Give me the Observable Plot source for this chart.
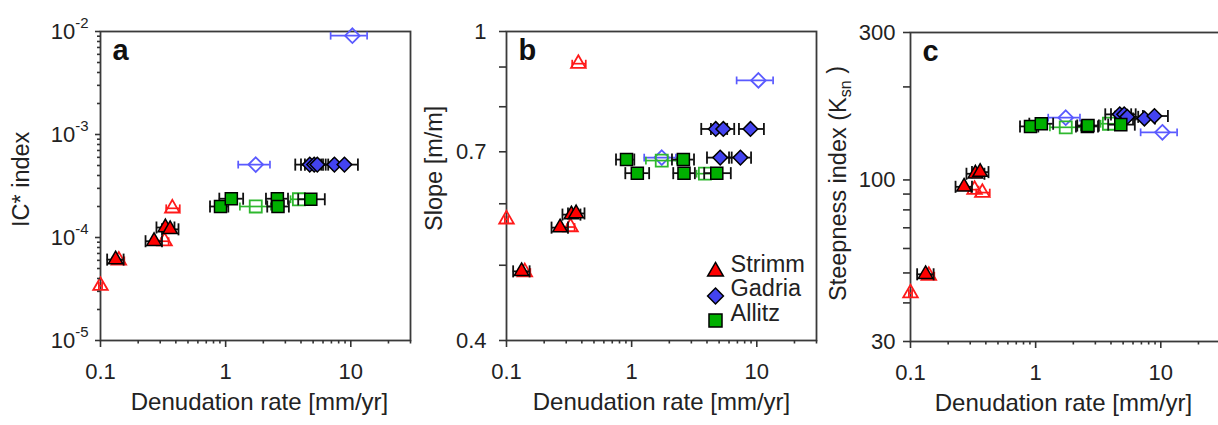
<!DOCTYPE html>
<html><head><meta charset="utf-8">
<script src="https://cdn.jsdelivr.net/npm/d3@7"></script>
<script src="https://cdn.jsdelivr.net/npm/@observablehq/plot@0.6"></script>
<style>
body{margin:0;background:#fff}
#chart{position:relative;width:1218px;height:425px;overflow:hidden;font-family:"Liberation Sans",Arial,Helvetica,sans-serif}
#chart svg{position:absolute;top:0}
</style>
</head><body><div id="chart"></div>
<script>
// ---------------- data ----------------
const legendNames = ["Strimm", "Gadria", "Allitz"];
const xTitle = "Denudation rate [mm/yr]";

// Strimm, filled (black error bars)
const strimmX     = [0.132, 0.268, 0.33, 0.36];
const strimmLo    = [0.113, 0.229, 0.28, 0.31];
const strimmHi    = [0.153, 0.31, 0.39, 0.42];
const strimmIC    = [6.1e-5, 9.2e-5, 1.25e-4, 1.2e-4];
const strimmSlope = [0.491, 0.559, 0.581, 0.583];
const strimmKsn   = [49.5, 95, 104.7, 106];
// Strimm, open
const strimmOX     = [0.1, 0.14, 0.325, 0.375];
const strimmOLo    = [0.097, 0.125, 0.305, 0.335];
const strimmOHi    = [0.103, 0.155, 0.35, 0.43];
const strimmOIC    = [3.4e-5, 6.0e-5, 9.2e-5, 1.92e-4];
const strimmOSlope = [0.573, 0.49, 0.56, 0.909];
const strimmOKsn   = [43, 49, 93, 91];

// Gadria, filled
const gadriaX     = [4.7, 5.1, 5.4, 7.4, 8.9];
const gadriaLo    = [3.6, 4.0, 4.3, 6.0, 7.2];
const gadriaHi    = [5.8, 6.3, 6.6, 9.0, 11.4];
const gadriaIC    = [5.1e-4, 5.1e-4, 5.1e-4, 5.1e-4, 5.1e-4];
const gadriaSlope = [0.749, 0.688, 0.749, 0.688, 0.749];
const gadriaKsn   = [163, 163, 160, 158, 161];
// Gadria, open
const gadriaOX     = [1.74, 10.3];
const gadriaOLo    = [1.26, 6.9];
const gadriaOHi    = [2.26, 13.5];
const gadriaOIC    = [5.1e-4, 9.1e-3];
const gadriaOSlope = [0.688, 0.865];
const gadriaOKsn   = [159, 142.6];

// Allitz, filled
const allitzX     = [0.91, 1.11, 2.59, 2.62, 4.79];
const allitzLo    = [0.75, 0.89, 2.1, 2.15, 3.8];
const allitzHi    = [1.05, 1.38, 3.15, 3.2, 6.2];
const allitzIC    = [2.0e-4, 2.38e-4, 2.38e-4, 2.0e-4, 2.35e-4];
const allitzSlope = [0.684, 0.657, 0.684, 0.657, 0.657];
const allitzKsn   = [149, 152, 149, 150, 151];
// Allitz, open
const allitzOX     = [1.74, 3.85];
const allitzOLo    = [1.3, 3.3];
const allitzOHi    = [2.3, 4.5];
const allitzOIC    = [2.0e-4, 2.35e-4];
const allitzOSlope = [0.682, 0.656];
const allitzOKsn   = [148, 152];

// axis ticks
const xMajor = [0.1, 1, 10];
const xMinor = [0.2,0.3,0.4,0.5,0.6,0.7,0.8,0.9,2,3,4,5,6,7,8,9,20,30];
const icMajor = [1e-5, 1e-4, 1e-3, 1e-2];
const icMinor = [2,3,4,5,6,7,8,9].flatMap(k => [k*1e-5, k*1e-4, k*1e-3]);
const slopeMajor = [0.4, 0.7, 1];
const slopeMinor = [0.5, 0.6, 0.8, 0.9];
const ksnMajor = [30, 100, 300];
const ksnMinor = [40, 50, 60, 70, 80, 90, 200];

// ---------------- build ----------------
function rows(x, lo, hi, ic, slope, ksn) {
  return x.map((v, i) => ({x: v, lo: lo[i], hi: hi[i], ic: ic[i], slope: slope[i], ksn: ksn[i]}));
}
const RED = "#ff0000", BLUE = "#4343f0", GREEN = "#00b000";
const openGroups = [
  {data: rows(strimmOX, strimmOLo, strimmOHi, strimmOIC, strimmOSlope, strimmOKsn), symbol: "triangle", r: 5.4, fill: "none", stroke: "#ff1a1a", sw: 1.8, bar: "#ff1a1a", capR: 4.4, barW: 1.7},
  {data: rows(gadriaOX, gadriaOLo, gadriaOHi, gadriaOIC, gadriaOSlope, gadriaOKsn), symbol: "diamond2", r: 6.6, fill: "none", stroke: "#5a5aff", sw: 1.8, bar: "#5a5aff", capR: 4.4, barW: 1.7},
  {data: rows(allitzOX, allitzOLo, allitzOHi, allitzOIC, allitzOSlope, allitzOKsn), symbol: "square", r: 6.8, fill: "none", stroke: "#2eb82e", sw: 1.8, bar: "#2eb82e", capR: 4.4, barW: 1.7}
];
const filledGroups = [
  {data: rows(strimmX, strimmLo, strimmHi, strimmIC, strimmSlope, strimmKsn), symbol: "triangle", r: 5.4, fill: RED, stroke: "#000", sw: 1.5, bar: "#111", capR: 6.8, barW: 1.8},
  {data: rows(gadriaX, gadriaLo, gadriaHi, gadriaIC, gadriaSlope, gadriaKsn), symbol: "diamond2", r: 6.6, fill: BLUE, stroke: "#000", sw: 1.5, bar: "#111", capR: 6.8, barW: 1.8},
  {data: rows(allitzX, allitzLo, allitzHi, allitzIC, allitzSlope, allitzKsn), symbol: "square", r: 6.8, fill: GREEN, stroke: "#000", sw: 1.5, bar: "#111", capR: 6.8, barW: 1.8}
];
// vertical cap symbol for error bars
const cap = {draw(ctx, size) { const h = Math.sqrt(size); ctx.moveTo(0, -h / 2); ctx.lineTo(0, h / 2); }};

const AX = "#333";
function panel(o) {
  const marks = [Plot.frame({stroke: "#3a3a3a", strokeWidth: 1.8})];
  for (const g of [...openGroups, ...filledGroups]) {
    marks.push(Plot.ruleY(g.data, {y: o.key, x1: "lo", x2: "hi", stroke: g.bar, strokeWidth: g.barW}));
    marks.push(Plot.dot(g.data, {x: "lo", y: o.key, symbol: cap, r: g.capR, stroke: g.bar, strokeWidth: g.barW, fill: "none"}));
    marks.push(Plot.dot(g.data, {x: "hi", y: o.key, symbol: cap, r: g.capR, stroke: g.bar, strokeWidth: g.barW, fill: "none"}));
    marks.push(Plot.dot(g.data, {x: "x", y: o.key, symbol: g.symbol, r: g.r, fill: g.fill, stroke: g.stroke, strokeWidth: g.sw}));
  }
  marks.push(
    Plot.axisX(xMajor, {anchor: "bottom", tickSize: 7, tickPadding: 16, tickFormat: d => String(d), stroke: AX, strokeWidth: 1.6, fill: "#222", label: null}),
    Plot.axisX(xMinor, {anchor: "bottom", tickSize: 3.5, stroke: AX, strokeWidth: 1.6, fill: "none", label: null}),
    Plot.axisY(o.yMajor, {anchor: "left", tickSize: o.majorSize, tickPadding: o.pad, tickFormat: o.fmt, stroke: AX, strokeWidth: 1.6, fill: "#222", label: null}),
    Plot.axisY(o.yMinor, {anchor: "left", tickSize: o.minorSize, stroke: AX, strokeWidth: 1.6, fill: "none", label: null}),
    Plot.text([o.letter], {frameAnchor: "top-left", dx: 12, dy: 8, text: d => d, lineAnchor: "top", textAnchor: "start", fontWeight: "bold", fontSize: 29, fill: "#111"}),
    Plot.text([o.yTitle], {frameAnchor: "left", dx: o.ytDx, dy: o.ytDy, rotate: -90, text: d => d, textAnchor: "start", fontSize: 23.5, fill: "#222"}),
    Plot.text([xTitle], {frameAnchor: "bottom", dx: o.xtDx, dy: 69, text: d => d, fontSize: 24, fill: "#222"})
  );
  if (o.legend) {
    legendNames.forEach((name, i) => {
      const g = filledGroups[i];
      marks.push(Plot.dot([name], {frameAnchor: "bottom-right", dx: -101, dy: -69 + 24.5 * i, symbol: g.symbol, r: g.r * 1.08, fill: g.fill, stroke: "#000", strokeWidth: 1.5}));
      marks.push(Plot.text([name], {frameAnchor: "bottom-right", dx: -86, dy: -69 + 24.5 * i, text: d => d, textAnchor: "start", fontSize: 23.5, fill: "#222"}));
    });
  }
  const svg = Plot.plot({
    width: 415, height: 425,
    marginLeft: 100, marginRight: 5, marginTop: o.top, marginBottom: 425 - o.bottom,
    style: {background: "none", overflow: "visible", fontFamily: '"Liberation Sans", Arial, Helvetica, sans-serif', fontSize: "22px", color: "#222"},
    x: {type: "log", domain: [0.1, 30], axis: null},
    y: {type: "log", domain: o.yDomain, axis: null},
    marks
  });
  svg.style.left = o.left + "px";
  const ns = "http://www.w3.org/2000/svg";
  // superscript exponents in tick labels
  svg.querySelectorAll('g[aria-label="y-axis tick label"] text').forEach(t => {
    const m = t.textContent.match(/^(.*)\^(.*)$/);
    if (!m) return;
    t.textContent = "";
    const a = document.createElementNS(ns, "tspan"); a.textContent = m[1];
    const b = document.createElementNS(ns, "tspan"); b.textContent = m[2];
    b.setAttribute("dy", "-0.7em"); b.setAttribute("font-size", "0.68em");
    t.append(a, b);
  });
  // subscript in title
  svg.querySelectorAll("text").forEach(t => {
    const m = t.textContent.match(/^(.*\(K)_(sn)(.*)$/);
    if (!m) return;
    t.textContent = "";
    const a = document.createElementNS(ns, "tspan"); a.textContent = m[1];
    const b = document.createElementNS(ns, "tspan"); b.textContent = m[2];
    b.setAttribute("dy", "0.3em"); b.setAttribute("font-size", "0.68em");
    const c = document.createElementNS(ns, "tspan"); c.textContent = m[3];
    c.setAttribute("dy", "-0.3em");
    t.append(a, b, c);
  });
  return svg;
}

const chart = document.getElementById("chart");
chart.append(
  panel({key: "ic", yDomain: [1e-5, 1e-2], yMajor: icMajor, yMinor: icMinor, majorSize: 5, minorSize: 3, pad: 7,
         fmt: d => "10^-" + Math.round(-Math.log10(d)), letter: "a", yTitle: "IC* index", ytDx: -79, ytDy: 41, xtDx: 4,
         left: 0, top: 31, bottom: 340}),
  panel({key: "slope", yDomain: [0.4, 1], yMajor: slopeMajor, yMinor: slopeMinor, majorSize: 7, minorSize: 7, pad: 13,
         fmt: d => String(d), letter: "b", yTitle: "Slope [m/m]", ytDx: -72, ytDy: 45, xtDx: 0, legend: true,
         left: 406, top: 31, bottom: 340}),
  panel({key: "ksn", yDomain: [30, 300], yMajor: ksnMajor, yMinor: ksnMinor, majorSize: 7, minorSize: 7, pad: 8,
         fmt: d => String(d), letter: "c", yTitle: "Steepness index (K_sn )", ytDx: -72, ytDy: 114, xtDx: -2,
         left: 810, top: 32, bottom: 341})
);
</script>
</body></html>
